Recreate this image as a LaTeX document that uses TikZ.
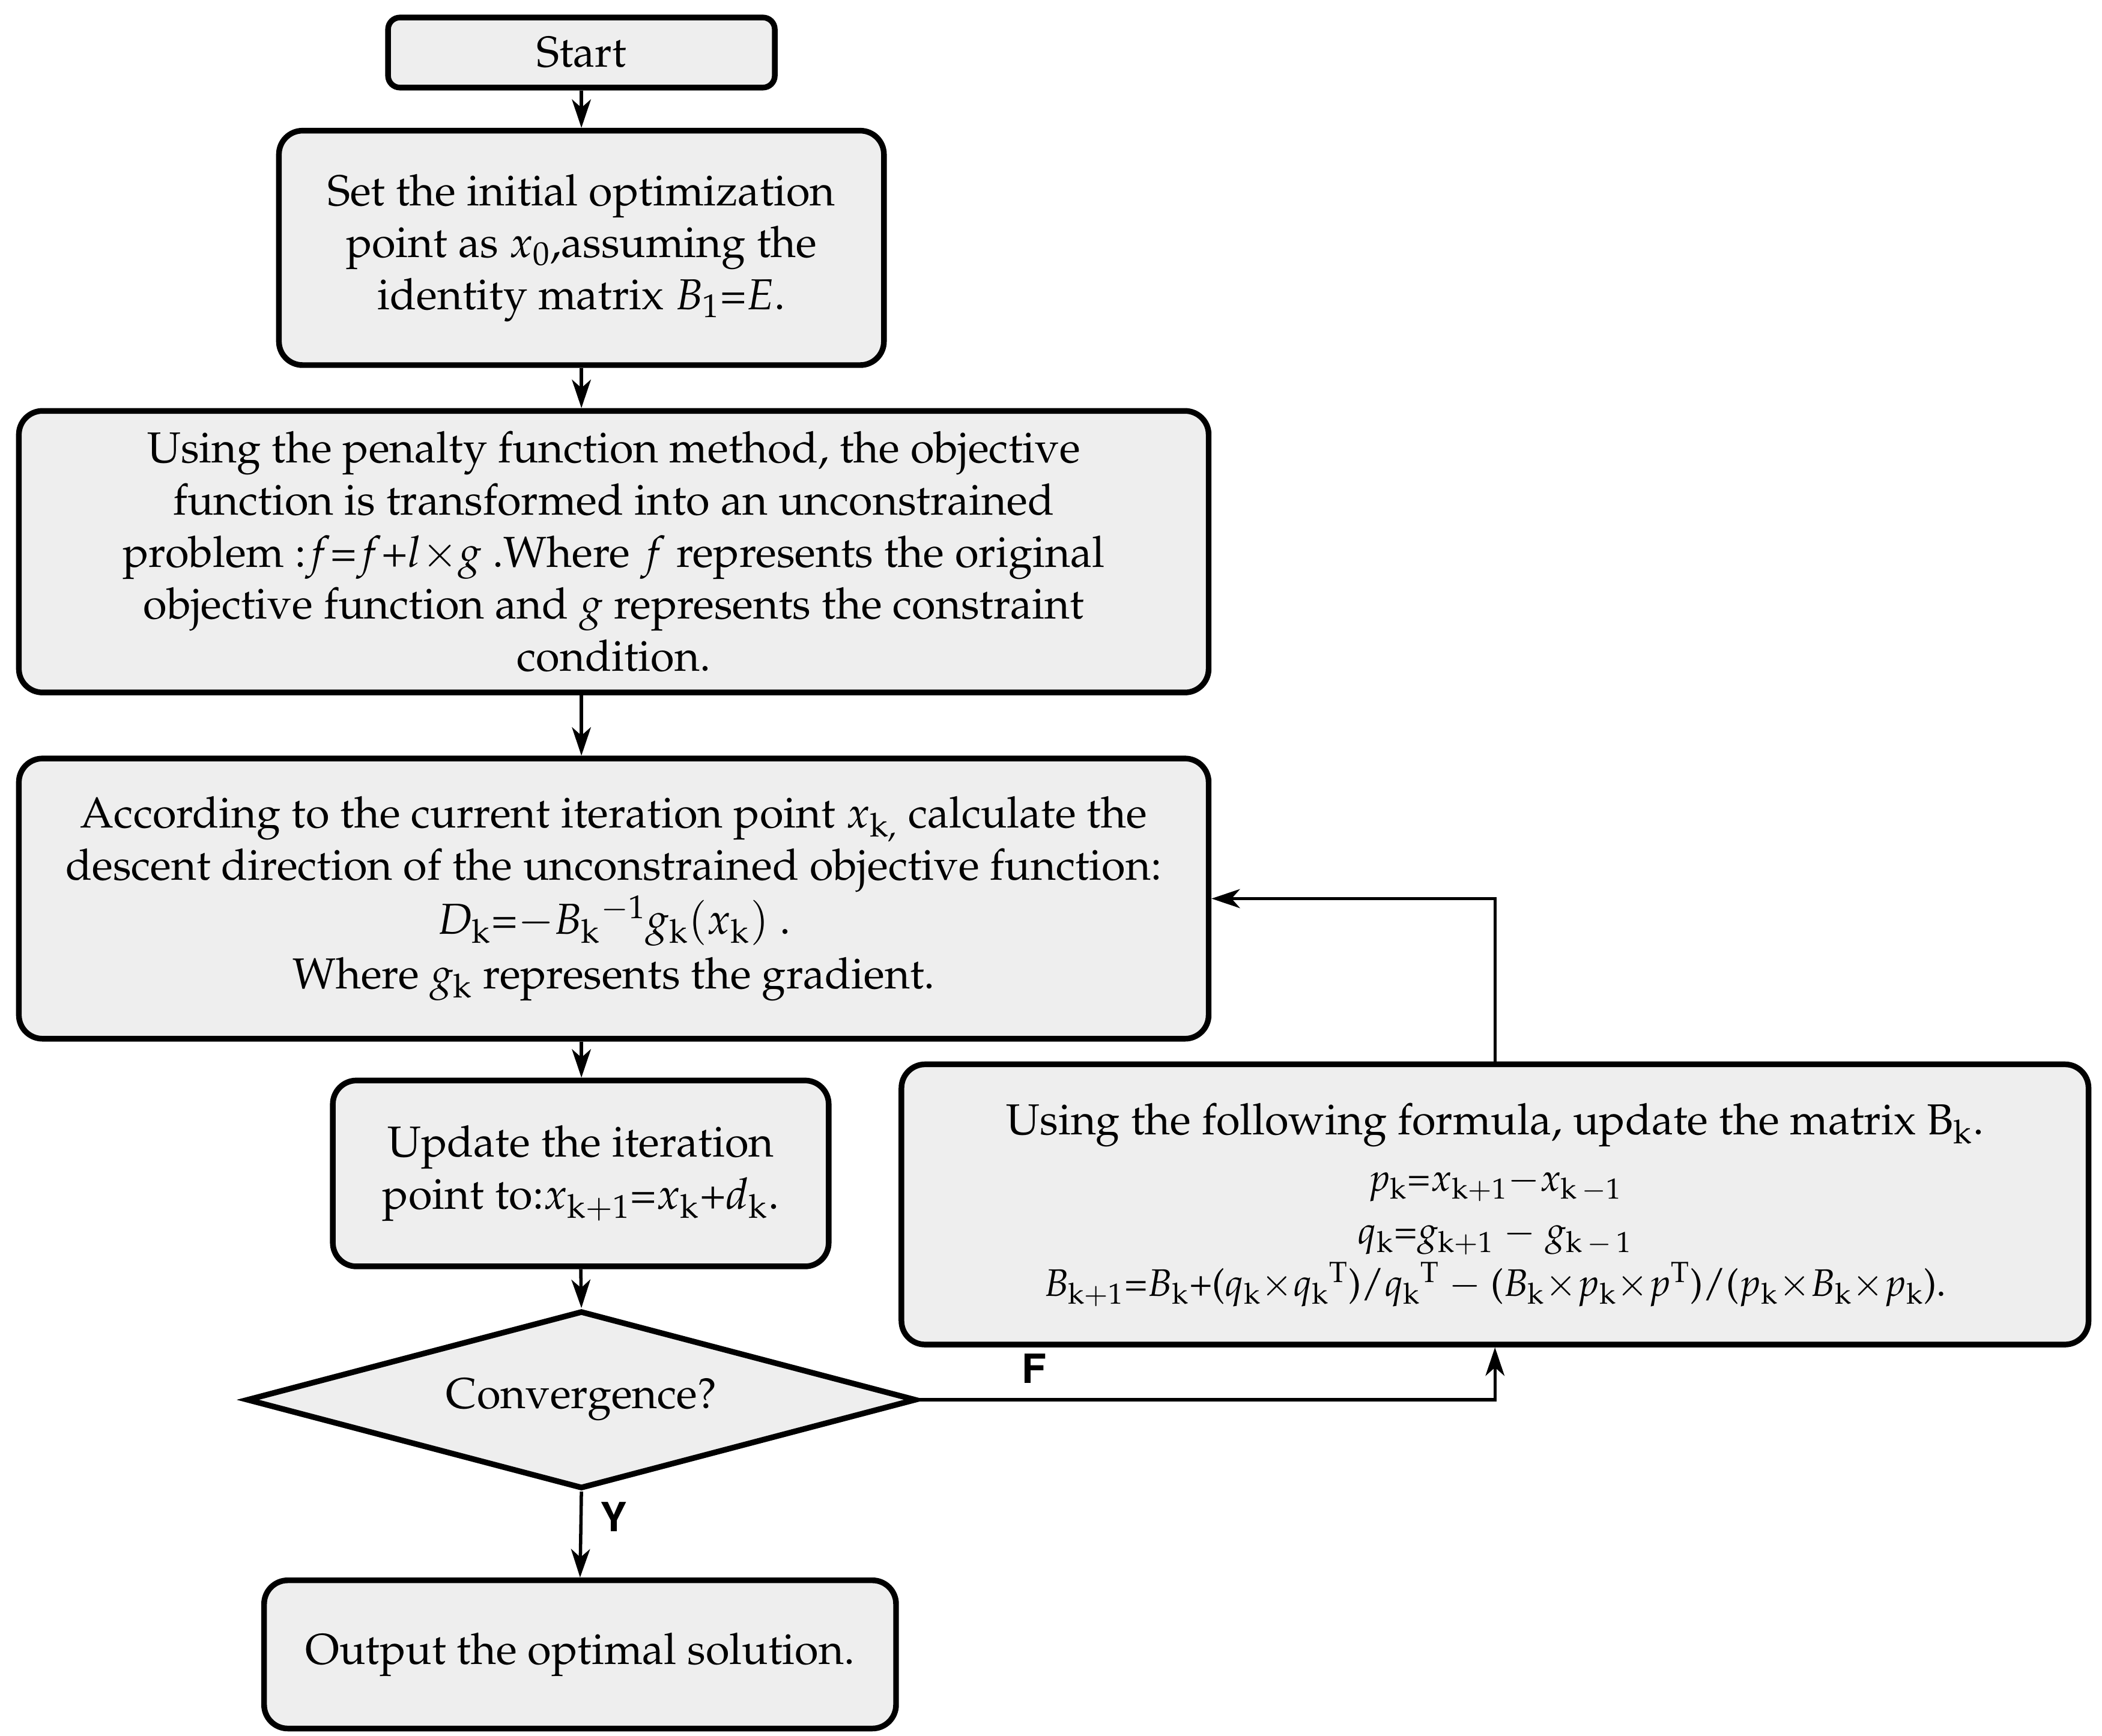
\documentclass[tikz,border=0pt]{standalone}
\usepackage[T1]{fontenc}
\usepackage{mathpazo}
\usetikzlibrary{shapes.geometric,arrows.meta,calc}
\begin{document}
\begin{tikzpicture}[x=0.02cm,y=0.02cm,
  box/.style={draw=black,line width=2.4pt,fill=boxgray,rounded corners=10pt,align=center,
    inner sep=0pt,font=\fontsize{18.3}{22}\selectfont},
  fline/.style={anchor=base,inner sep=0pt,font=\fontsize{16.2}{19}\selectfont},
  conn/.style={line width=1.4pt,-{Stealth[length=12pt,width=8pt,inset=3.5pt]}},
  lab/.style={font=\fontfamily{phv}\fontseries{b}\fontsize{17}{20}\selectfont}]
\definecolor{boxgray}{HTML}{EEEEEE}
\useasboundingbox (0,0) rectangle (1560,-1288.5);
\node[box,rounded corners=5pt,minimum width=287*0.02cm,minimum height=52*0.02cm] (start) at (431.5,-39) {Start};
\node[box,minimum width=449*0.02cm,minimum height=174*0.02cm] (init) at (431.5,-184)
  {Set the initial optimization\\ point as $x_0$,assuming the\\ identity matrix $B_1$=$E$.};
\node[box,minimum width=883*0.02cm,minimum height=209*0.02cm] (pen) at (455.5,-409.5)
  {Using the penalty function method, the objective\\ function is transformed into an unconstrained\\
   problem :$f$=$f$+$l$$\times$$g$ .Where $f$ represents the original\\
   objective function and $g$ represents the constraint\\ condition.};
\node[box,minimum width=883*0.02cm,minimum height=208*0.02cm] (desc) at (455.5,-667)
  {According to the current iteration point $x_{\mathrm{k},}$ calculate the\\
   descent direction of the unconstrained objective function:\\[1pt]
   $D_{\mathrm k}$=$-B_{\mathrm k}{}^{-1}g_{\mathrm k}(x_{\mathrm k})$ .\\[1pt]
   Where $g_{\mathrm k}$ represents the gradient.};
\node[box,minimum width=368*0.02cm,minimum height=138*0.02cm] (upd) at (431,-871)
  {Update the iteration\\ point to:$x_{\mathrm{k+1}}$=$x_{\mathrm k}$+$d_{\mathrm k}$.};
\node[box,minimum width=881*0.02cm,minimum height=208*0.02cm] (form) at (1109.5,-894) {};
\node[fline,font=\fontsize{18.3}{22}\selectfont] (f1) at (1109.5,-842)
  {Using the following formula, update the matrix B$_{\mathrm k}$.};
\node[fline] (f2) at (1109.5,-884) {$p_{\mathrm k}$=$x_{\mathrm{k+1}}$$-$$x_{\mathrm{k\,-1}}$};
\node[fline] (f3) at (1109.5,-923.5) {$q_{\mathrm k}$=$g_{\mathrm{k+1}}$ $-$ $g_{\mathrm{k\,-\,1}}$};
\node[fline] (f4) at (1109.5,-962)
  {$B_{\mathrm{k+1}}$=$B_{\mathrm k}$+($q_{\mathrm k}$$\times$$q_{\mathrm k}{}^{\mathrm T}$)/$q_{\mathrm k}{}^{\mathrm T}$ $-$ ($B_{\mathrm k}$$\times$$p_{\mathrm k}$$\times$$p^{\mathrm T}$)/($p_{\mathrm k}$$\times$$B_{\mathrm k}$$\times$$p_{\mathrm k}$).};
\node[draw=black,line width=2.4pt,fill=boxgray,diamond,aspect=3.76,inner sep=0pt,
  minimum width=497*0.02cm,minimum height=132*0.02cm,font=\fontsize{18.3}{22}\selectfont] (conv) at (431.5,-1039) {Convergence?};
\node[box,minimum width=469*0.02cm,minimum height=110*0.02cm] (out) at (430.5,-1228) {Output the optimal solution.};
\draw[conn] (start.south) -- (init.north);
\draw[conn] (init.south) -- (init.south |- pen.north);
\draw[conn] (init.south |- pen.south) -- (init.south |- desc.north);
\draw[conn] (init.south |- desc.south) -- (init.south |- upd.north);
\draw[conn] (upd.south) -- (conv.north);
\draw[conn] (conv.south) -- node[lab,right,pos=0.3,xshift=4pt] {Y} (out.north);
\draw[conn] (conv.east) -| node[lab,pos=0.1,above,yshift=3pt] {F} (form.south);
\draw[conn] (form.north) |- (desc.east);
\end{tikzpicture}
\end{document}
